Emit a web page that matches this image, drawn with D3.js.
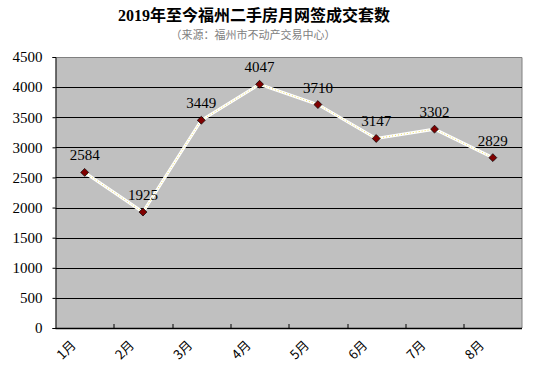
<!DOCTYPE html>
<html>
<head>
<meta charset="utf-8">
<script src="https://cdn.jsdelivr.net/npm/d3@7"></script>
<style>
  body { margin: 0; background: #fff; }
</style>
</head>
<body>
<script>
var months = ["1月", "2月", "3月", "4月", "5月", "6月", "7月", "8月"];
var sales = [2584, 1925, 3449, 4047, 3710, 3147, 3302, 2829];
var yTicks = [0, 500, 1000, 1500, 2000, 2500, 3000, 3500, 4000, 4500];

var width = 554, height = 383,
    margin = { top: 57, right: 32, bottom: 55, left: 55.5 },
    plotW = width - margin.left - margin.right,
    plotH = height - margin.top - margin.bottom;

var serif = "'Liberation Serif', 'Noto Sans CJK SC', serif";

var svg = d3.select("body").append("svg")
    .attr("width", width)
    .attr("height", height);

// title
svg.append("text")
    .attr("x", 254).attr("y", 21)
    .attr("text-anchor", "middle")
    .style("font-family", serif)
    .style("font-size", "16px")
    .style("font-weight", "bold")
    .text("2019年至今福州二手房月网签成交套数");

svg.append("text")
    .attr("x", 253).attr("y", 39)
    .attr("text-anchor", "middle")
    .style("font-family", "'Noto Sans CJK SC', sans-serif")
    .style("font-size", "11px")
    .style("fill", "#808080")
    .text("（来源：福州市不动产交易中心）");

var plot = svg.append("g")
    .attr("transform", "translate(" + margin.left + "," + margin.top + ")");

var x = d3.scaleBand().domain(months).range([0, plotW]);
var y = d3.scaleLinear().domain([0, 4500]).range([plotH, 0]);

// plot background
plot.append("rect")
    .attr("width", plotW).attr("height", plotH)
    .attr("fill", "#c0c0c0");

// top / right frame
plot.append("path")
    .attr("d", "M0,0.5H" + plotW + "V" + plotH)
    .attr("fill", "none")
    .attr("stroke", "#808080")
    .attr("stroke-width", 1);

// gridlines
plot.selectAll(".grid")
    .data(yTicks.filter(function (d) { return d > 0 && d < 4500; }))
    .enter().append("line")
    .attr("x1", 0).attr("x2", plotW)
    .attr("y1", function (d) { return Math.round(y(d)) + 0.5; })
    .attr("y2", function (d) { return Math.round(y(d)) + 0.5; })
    .attr("stroke", "#000")
    .attr("stroke-width", 1);

// y axis
var yAxis = plot.append("g")
    .call(d3.axisLeft(y).tickValues(yTicks).tickFormat(d3.format("d")).tickSize(3).tickPadding(10));
yAxis.select(".domain").attr("stroke", "#000");
yAxis.selectAll("text")
    .style("font-family", serif)
    .style("font-size", "15px")
    .attr("fill", "#000");

// x axis with ticks between categories
var xAxis = plot.append("g")
    .attr("transform", "translate(0," + plotH + ")");
xAxis.append("line")
    .attr("x1", 0).attr("x2", plotW)
    .attr("y1", 0.5).attr("y2", 0.5)
    .attr("stroke", "#000").attr("stroke-width", 1.5);
xAxis.selectAll(".tk")
    .data(months.slice(1))
    .enter().append("line")
    .attr("x1", function (d) { return Math.round(x(d)) + 0.5; })
    .attr("x2", function (d) { return Math.round(x(d)) + 0.5; })
    .attr("y1", -4).attr("y2", 0)
    .attr("stroke", "#000");
xAxis.selectAll(".lbl")
    .data(months)
    .enter().append("text")
    .attr("transform", function (d) {
        return "translate(" + (x(d) + x.bandwidth() / 2 - 8) + ",18) rotate(-45)";
    })
    .attr("text-anchor", "end")
    .style("font-family", "'Noto Sans CJK SC', sans-serif")
    .style("font-size", "13px")
    .text(function (d) { return d; });

// line
var line = d3.line()
    .x(function (d, i) { return x(months[i]) + x.bandwidth() / 2; })
    .y(function (d) { return y(d); });

plot.append("path")
    .datum(sales)
    .attr("d", line)
    .attr("fill", "none")
    .attr("stroke", "#fff")
    .attr("stroke-width", 3);
plot.append("path")
    .datum(sales)
    .attr("d", line)
    .attr("fill", "none")
    .attr("stroke", "#f0e060")
    .attr("stroke-width", 1)
    .attr("stroke-dasharray", "1,2");

// markers
plot.selectAll(".pt")
    .data(sales)
    .enter().append("path")
    .attr("d", d3.symbol().type(d3.symbolDiamond2).size(40))
    .attr("transform", function (d, i) {
        return "translate(" + (x(months[i]) + x.bandwidth() / 2) + "," + y(d) + ")";
    })
    .attr("fill", "#800000")
    .attr("stroke", "#000")
    .attr("stroke-width", 0.7);

// value labels
plot.selectAll(".val")
    .data(sales)
    .enter().append("text")
    .attr("x", function (d, i) { return x(months[i]) + x.bandwidth() / 2; })
    .attr("y", function (d) { return y(d) - 12; })
    .attr("text-anchor", "middle")
    .style("font-family", serif)
    .style("font-size", "15px")
    .text(function (d) { return d; });
</script>
</body>
</html>
